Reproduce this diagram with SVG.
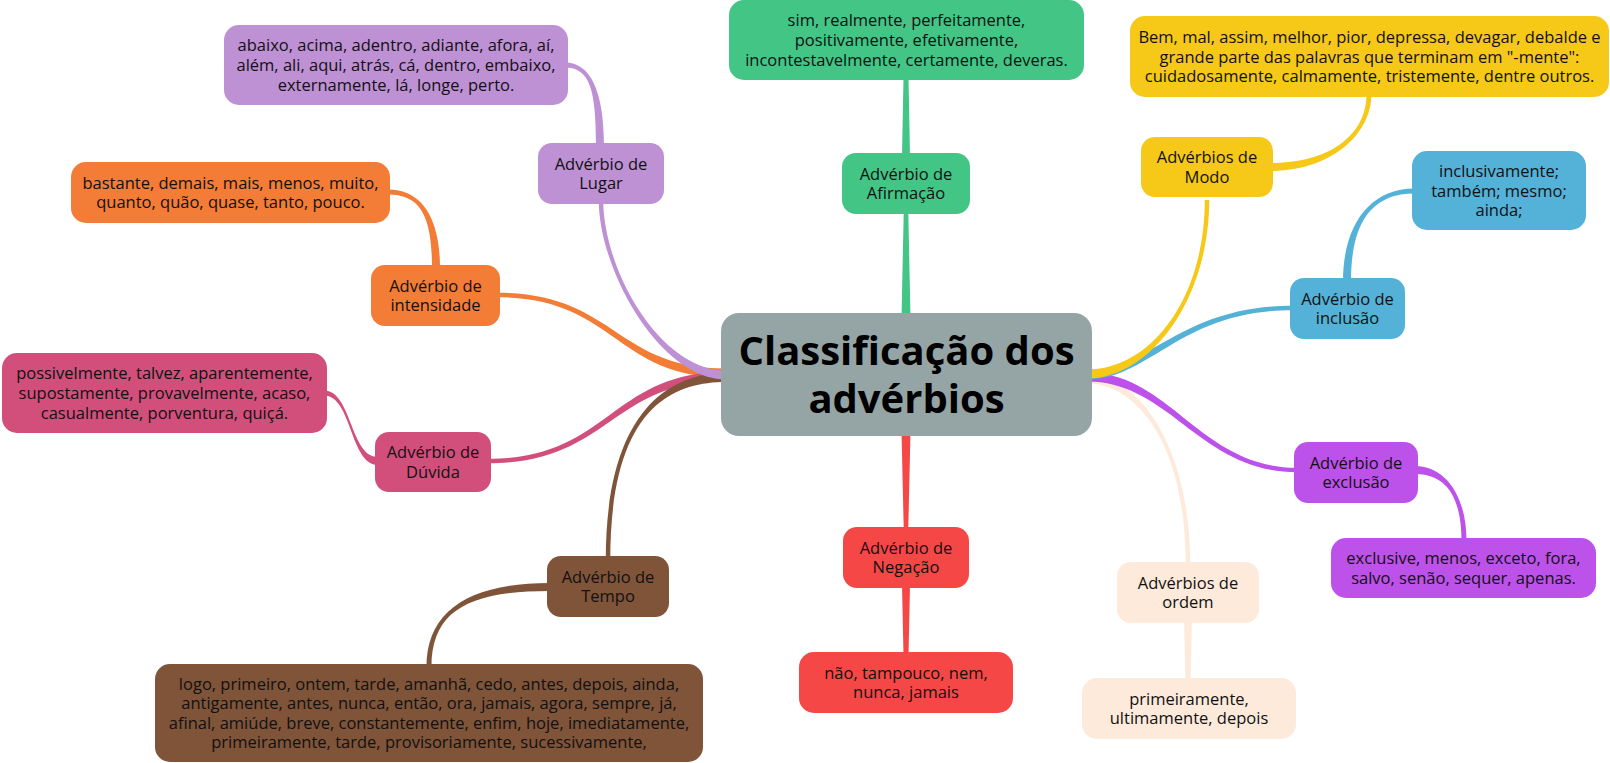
<svg xmlns="http://www.w3.org/2000/svg" width="1610" height="763" viewBox="0 0 1610 763">
<style>
text{font-family:"Open Sans","Noto Sans","Liberation Sans",sans-serif;font-size:16.5px;fill:#111;text-anchor:middle}
.title{font-size:40px;font-weight:700;fill:#000}
.c-central{fill:#95a5a6}
.c-green{fill:#43c586}
.c-lugar{fill:#be90d4}
.c-orange{fill:#f37c36}
.c-pink{fill:#d24f7c}
.c-brown{fill:#7f5439}
.c-red{fill:#f64747}
.c-yellow{fill:#f6c918}
.c-blue{fill:#54b2d8}
.c-excl{fill:#bd52ea}
.c-beige{fill:#fdeadb}
</style>
<rect width="1610" height="763" fill="#fff"/>
<g id="connectors">
<path class="c-green" d="M901.5,318 L910.5,318 L908.25,211 L903.75,211 Z"/>
<path class="c-green" d="M902,156 L910,156 L908.5,78 L903.5,78 Z"/>
<path class="c-red" d="M901.5,431 L910.5,431 L908.25,530 L903.75,530 Z"/>
<path class="c-red" d="M902,585 L910,585 L908.5,655 L903.5,655 Z"/>
<path class="c-orange" d="M726,377.5 C615,377.5 615,297.25 497,297.25 L497,292.75 C615,292.75 615,368.5 726,368.5 Z"/>
<path class="c-orange" d="M432,268 C432,215 420,194.5 388,194.5 L388,189.5 C420,189.5 440,215 440,268 Z"/>
<path class="c-pink" d="M726,381 C610,381 610,463.25 488,463.25 L488,458.75 C610,458.75 610,372 726,372 Z"/>
<path class="c-pink" d="M378,465 C350,465 352,395.5 324,395.5 L324,390.5 C352,390.5 350,457 378,457 Z"/>
<path class="c-brown" d="M726,382 C670,382 610.25,410 610.25,560 L605.75,560 C605.75,410 670,373 726,373 Z"/>
<path class="c-brown" d="M550,591 C470,591 431.5,610 431.5,667 L426.5,667 C426.5,610 470,583 550,583 Z"/>
<path class="c-lugar" d="M726,379.5 C660,379.5 598.75,270 598.75,200 L603.25,200 C603.25,270 660,370.5 726,370.5 Z"/>
<path class="c-lugar" d="M596,146 C596,90 590,67.5 565,67.5 L565,62.5 C590,62.5 604,90 604,146 Z"/>
<path class="c-beige" d="M1087,374.5 C1135,374.5 1190.25,440 1190.25,565 L1185.75,565 C1185.75,440 1135,383.5 1087,383.5 Z"/>
<path class="c-beige" d="M1184,620 L1192,620 L1190.5,681 L1185.5,681 Z"/>
<path class="c-excl" d="M1087,372.5 C1170,372.5 1200,467.75 1297,467.75 L1297,472.25 C1200,472.25 1170,381.5 1087,381.5 Z"/>
<path class="c-excl" d="M1415,466 C1445,466 1466.5,495 1466.5,541 L1461.5,541 C1461.5,495 1445,474 1415,474 Z"/>
<path class="c-blue" d="M1087,370.5 C1150,370.5 1180,305.75 1293,305.75 L1293,310.25 C1180,310.25 1150,379.5 1087,379.5 Z"/>
<path class="c-blue" d="M1343,281 C1343,225 1370,188.5 1414,188.5 L1414,193.5 C1370,193.5 1351,225 1351,281 Z"/>
<path class="c-yellow" d="M1087,369.5 C1150,369.5 1204.75,300 1204.75,200 L1209.25,200 C1209.25,300 1150,378.5 1087,378.5 Z"/>
<path class="c-yellow" d="M1270,163 C1330,163 1366.5,135 1366.5,94 L1371.5,94 C1371.5,135 1330,171 1270,171 Z"/>
</g>
<g id="central">
<rect class="c-central" x="721" y="313" width="371" height="123" rx="18"/>
<text class="title" x="906.5" y="364.5">Classificação dos</text>
<text class="title" x="906.5" y="412.5">advérbios</text>
</g>
<g id="afirmacao">
<rect class="c-green" x="842" y="153" width="128" height="61" rx="14"/>
<text x="906" y="179.5">Advérbio de</text>
<text x="906" y="199.1">Afirmação</text>
</g>
<g id="afirmacao-exemplos">
<rect class="c-green" x="729" y="0" width="355" height="80" rx="15"/>
<text x="906.5" y="26.4">sim, realmente, perfeitamente,</text>
<text x="906.5" y="46">positivamente, efetivamente,</text>
<text x="906.5" y="65.6">incontestavelmente, certamente, deveras.</text>
</g>
<g id="lugar">
<rect class="c-lugar" x="538" y="143" width="126" height="61" rx="14"/>
<text x="601" y="169.5">Advérbio de</text>
<text x="601" y="189.1">Lugar</text>
</g>
<g id="lugar-exemplos">
<rect class="c-lugar" x="224" y="25" width="344" height="80" rx="15"/>
<text x="396" y="51.4">abaixo, acima, adentro, adiante, afora, aí,</text>
<text x="396" y="71">além, ali, aqui, atrás, cá, dentro, embaixo,</text>
<text x="396" y="90.6">externamente, lá, longe, perto.</text>
</g>
<g id="intensidade">
<rect class="c-orange" x="371" y="265" width="129" height="61" rx="14"/>
<text x="435.5" y="291.5">Advérbio de</text>
<text x="435.5" y="311.1">intensidade</text>
</g>
<g id="intensidade-exemplos">
<rect class="c-orange" x="71" y="162" width="319" height="61" rx="15"/>
<text x="230.5" y="188.5">bastante, demais, mais, menos, muito,</text>
<text x="230.5" y="208.1">quanto, quão, quase, tanto, pouco.</text>
</g>
<g id="duvida">
<rect class="c-pink" x="375" y="432" width="116" height="60" rx="14"/>
<text x="433" y="458">Advérbio de</text>
<text x="433" y="477.6">Dúvida</text>
</g>
<g id="duvida-exemplos">
<rect class="c-pink" x="2" y="353" width="325" height="80" rx="15"/>
<text x="164.5" y="379.4">possivelmente, talvez, aparentemente,</text>
<text x="164.5" y="399">supostamente, provavelmente, acaso,</text>
<text x="164.5" y="418.6">casualmente, porventura, quiçá.</text>
</g>
<g id="tempo">
<rect class="c-brown" x="547" y="556" width="122" height="61" rx="14"/>
<text x="608" y="582.5">Advérbio de</text>
<text x="608" y="602.1">Tempo</text>
</g>
<g id="tempo-exemplos">
<rect class="c-brown" x="155" y="664" width="548" height="98" rx="15"/>
<text x="429" y="689.6">logo, primeiro, ontem, tarde, amanhã, cedo, antes, depois, ainda,</text>
<text x="429" y="709.2">antigamente, antes, nunca, então, ora, jamais, agora, sempre, já,</text>
<text x="429" y="728.8">afinal, amiúde, breve, constantemente, enfim, hoje, imediatamente,</text>
<text x="429" y="748.4">primeiramente, tarde, provisoriamente, sucessivamente,</text>
</g>
<g id="negacao">
<rect class="c-red" x="843" y="527" width="126" height="61" rx="14"/>
<text x="906" y="553.5">Advérbio de</text>
<text x="906" y="573.1">Negação</text>
</g>
<g id="negacao-exemplos">
<rect class="c-red" x="799" y="652" width="214" height="61" rx="15"/>
<text x="906" y="678.5">não, tampouco, nem,</text>
<text x="906" y="698.1">nunca, jamais</text>
</g>
<g id="modo">
<rect class="c-yellow" x="1141" y="137" width="132" height="60" rx="14"/>
<text x="1207" y="163">Advérbios de</text>
<text x="1207" y="182.6">Modo</text>
</g>
<g id="modo-exemplos">
<rect class="c-yellow" x="1130" y="16" width="479" height="81" rx="15"/>
<text x="1369.5" y="42.9">Bem, mal, assim, melhor, pior, depressa, devagar, debalde e</text>
<text x="1369.5" y="62.5">grande parte das palavras que terminam em "-mente":</text>
<text x="1369.5" y="82.1">cuidadosamente, calmamente, tristemente, dentre outros.</text>
</g>
<g id="inclusao">
<rect class="c-blue" x="1290" y="278" width="115" height="61" rx="14"/>
<text x="1347.5" y="304.5">Advérbio de</text>
<text x="1347.5" y="324.1">inclusão</text>
</g>
<g id="inclusao-exemplos">
<rect class="c-blue" x="1412" y="151" width="174" height="79" rx="15"/>
<text x="1499" y="176.9">inclusivamente;</text>
<text x="1499" y="196.5">também; mesmo;</text>
<text x="1499" y="216.1">ainda;</text>
</g>
<g id="exclusao">
<rect class="c-excl" x="1294" y="442" width="124" height="61" rx="14"/>
<text x="1356" y="468.5">Advérbio de</text>
<text x="1356" y="488.1">exclusão</text>
</g>
<g id="exclusao-exemplos">
<rect class="c-excl" x="1331" y="538" width="265" height="60" rx="15"/>
<text x="1463.5" y="564">exclusive, menos, exceto, fora,</text>
<text x="1463.5" y="583.6">salvo, senão, sequer, apenas.</text>
</g>
<g id="ordem">
<rect class="c-beige" x="1117" y="562" width="142" height="61" rx="14"/>
<text x="1188" y="588.5">Advérbios de</text>
<text x="1188" y="608.1">ordem</text>
</g>
<g id="ordem-exemplos">
<rect class="c-beige" x="1082" y="678" width="214" height="61" rx="15"/>
<text x="1189" y="704.5">primeiramente,</text>
<text x="1189" y="724.1">ultimamente, depois</text>
</g>
</svg>
